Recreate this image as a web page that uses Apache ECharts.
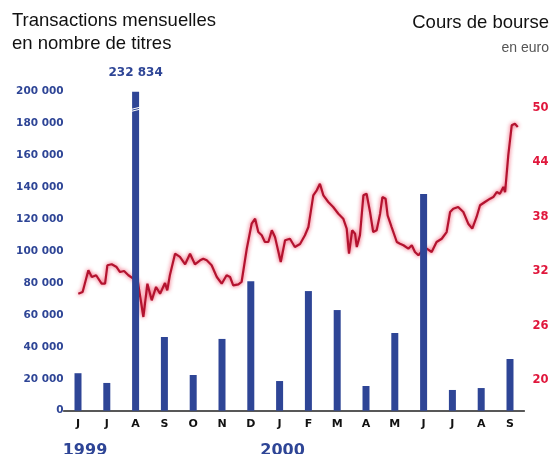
<!DOCTYPE html>
<html>
<head>
<meta charset="utf-8">
<script src="https://cdn.jsdelivr.net/npm/echarts@6/dist/echarts.min.js"></script>
<style>html,body{margin:0;padding:0;background:#fff}#c{width:552px;height:454px}</style>
</head>
<body>
<div id="c"></div>
<script>
// Months June 1999 – September 2000
const months = ['J','J','A','S','O','N','D','J','F','M','A','M','J','J','A','S'];
const yearLabels = {0: '1999', 7: '2000'};
// Monthly transactions (number of shares)
const volumes = [23500, 17400, 232834, 46200, 22400, 45000, 81100, 18600, 75000, 63100, 15500, 48700, 135900, 13000, 14200, 32400];
// Share price (euro); x = months elapsed since 1 June 1999
const priceMonth = [0.51,0.66,0.86,0.98,1.13,1.32,1.44,1.52,1.67,1.84,1.96,2.10,2.25,2.42,2.58,2.77,2.91,3.06,3.21,3.35,3.52,3.60,3.69,3.87,4.04,4.22,4.39,4.56,4.74,4.85,4.97,5.14,5.32,5.49,5.66,5.78,5.89,6.07,6.18,6.36,6.53,6.65,6.76,6.88,6.99,7.11,7.23,7.34,7.54,7.69,7.86,8.03,8.21,8.38,8.50,8.67,8.79,8.90,9.02,9.19,9.36,9.54,9.71,9.83,9.91,10.02,10.12,10.18,10.29,10.41,10.52,10.64,10.75,10.87,10.99,11.07,11.18,11.25,11.39,11.57,11.68,11.80,11.97,12.09,12.20,12.32,12.48,12.61,12.78,12.95,13.13,13.30,13.42,13.53,13.70,13.88,14.05,14.19,14.34,14.46,14.63,14.81,14.92,15.04,15.15,15.27,15.33,15.44,15.56,15.67,15.77];
const priceValue = [29.52,29.71,32.10,31.36,31.55,30.62,30.62,32.65,32.76,32.46,31.91,32.02,31.55,31.17,30.81,26.95,30.62,28.79,30.26,29.52,30.70,29.89,31.55,33.93,33.57,32.76,33.93,32.76,33.20,33.38,33.20,32.65,31.36,30.62,31.55,31.36,30.44,30.55,30.81,34.48,37.24,37.79,36.32,35.96,35.22,35.22,36.51,35.77,33.01,35.41,35.58,34.67,35.00,35.96,36.87,40.37,40.92,41.65,40.37,39.63,39.08,38.34,37.79,36.69,33.93,36.51,36.14,34.67,35.96,40.37,40.55,38.53,36.32,36.51,38.34,40.18,40.00,38.16,36.87,35.22,35.03,34.86,34.48,34.86,34.12,33.75,34.34,34.48,34.12,35.22,35.58,36.32,38.53,38.89,39.08,38.53,37.24,36.69,37.98,39.27,39.63,40.00,40.18,40.73,40.55,41.29,40.73,44.78,48.09,48.27,47.90];
const priceTicks = [20, 26, 32, 38, 44, 50];
const volumeMax = 200000, volumeStep = 20000;
const priceMin = 16.61, priceMax = 51.80;

const BLUE = '#2e4596', RED = '#e0173c';
const numFont = 'DejaVu Sans';
const fmt = v => String(v).replace(/\B(?=(\d{3})+(?!\d))/g, ' ');

const chart = echarts.init(document.getElementById('c'), null, {renderer: 'canvas'});
const option = {
  animation: false,
  backgroundColor: '#fff',
  title: [
    {text: 'Transactions mensuelles\nen nombre de titres', left: 12, top: 10, padding: 0,
     textStyle: {fontFamily: 'Liberation Sans', fontSize: 18.5, fontWeight: 'normal', color: '#111', lineHeight: 22.5}},
    {text: 'Cours de bourse', right: 3, top: 12, padding: 0,
     textStyle: {fontFamily: 'Liberation Sans', fontSize: 18.5, fontWeight: 'normal', color: '#111', lineHeight: 22}},
    {text: 'en euro', right: 3, top: 39, padding: 0,
     textStyle: {fontFamily: 'Liberation Sans', fontSize: 14, fontWeight: 'normal', color: '#555', lineHeight: 18}}
  ],
  grid: {left: 63.6, right: 27.6, top: 91.7, bottom: 43.3, outerBoundsMode: 'none', containLabel: false},
  xAxis: [
    {type: 'category', data: months, boundaryGap: true,
     axisLine: {lineStyle: {color: '#222', width: 1.5}},
     axisTick: {show: false},
     axisLabel: {margin: 5, interval: 0,
       formatter: (v, i) => yearLabels[i] ? '{m|' + v + '}\n{y' + i + '|' + yearLabels[i] + '}' : '{m|' + v + '}',
       rich: {
         m: {fontFamily: numFont, fontWeight: 'bold', fontSize: 11, color: '#111', lineHeight: 16},
         y0: {fontFamily: numFont, fontWeight: 'bold', fontSize: 16, color: BLUE, lineHeight: 38, padding: [0, 0, 0, 14]},
         y7: {fontFamily: numFont, fontWeight: 'bold', fontSize: 16, color: BLUE, lineHeight: 38, padding: [0, 0, 0, 6]}
       }}},
    {type: 'value', min: 0, max: months.length, show: false}
  ],
  yAxis: [
    {type: 'value', min: 0, max: volumeMax, interval: volumeStep, position: 'left',
     axisLine: {show: false}, axisTick: {show: false}, splitLine: {show: false},
     axisLabel: {margin: 0, formatter: fmt, color: BLUE, fontFamily: numFont, fontWeight: 'bold', fontSize: 10.5}},
    {type: 'value', min: priceMin, max: priceMax, position: 'right',
     axisLine: {show: false}, axisTick: {show: false}, splitLine: {show: false},
     axisLabel: {margin: 8, customValues: priceTicks, color: RED, fontFamily: numFont, fontWeight: 'bold', fontSize: 11.5}}
  ],
  series: [
    {type: 'line', xAxisIndex: 1, yAxisIndex: 1, z: 1, symbol: 'none', smooth: false,
     data: priceMonth.map((m, i) => [m, priceValue[i]]),
     lineStyle: {color: '#b3132f', width: 2.2, shadowColor: 'rgba(235,20,55,0.85)', shadowBlur: 4}},
    {type: 'bar', xAxisIndex: 0, yAxisIndex: 0, z: 3, barWidth: 7, clip: true,
     itemStyle: {color: BLUE},
     data: volumes.map(v => v > volumeMax
       ? {value: v, label: {show: true, position: 'top', distance: 13, formatter: p => fmt(p.value),
           color: BLUE, fontFamily: numFont, fontWeight: 'bold', fontSize: 12}}
       : v)}
  ]
};
chart.setOption(option);

// break mark on the clipped bar
const bi = volumes.findIndex(v => v > volumeMax);
if (bi >= 0) {
  const p = chart.convertToPixel({xAxisIndex: 0, yAxisIndex: 0}, [bi, volumeMax * 0.948]);
  chart.setOption({graphic: [
    {type: 'line', shape: {x1: p[0] - 4, y1: p[1] + 1, x2: p[0] + 4, y2: p[1] - 1}, style: {stroke: '#fff', lineWidth: 1}, z: 100},
    {type: 'line', shape: {x1: p[0] - 4, y1: p[1] + 3, x2: p[0] + 4, y2: p[1] + 1}, style: {stroke: '#fff', lineWidth: 1}, z: 100}
  ]});
}
</script>
</body>
</html>
